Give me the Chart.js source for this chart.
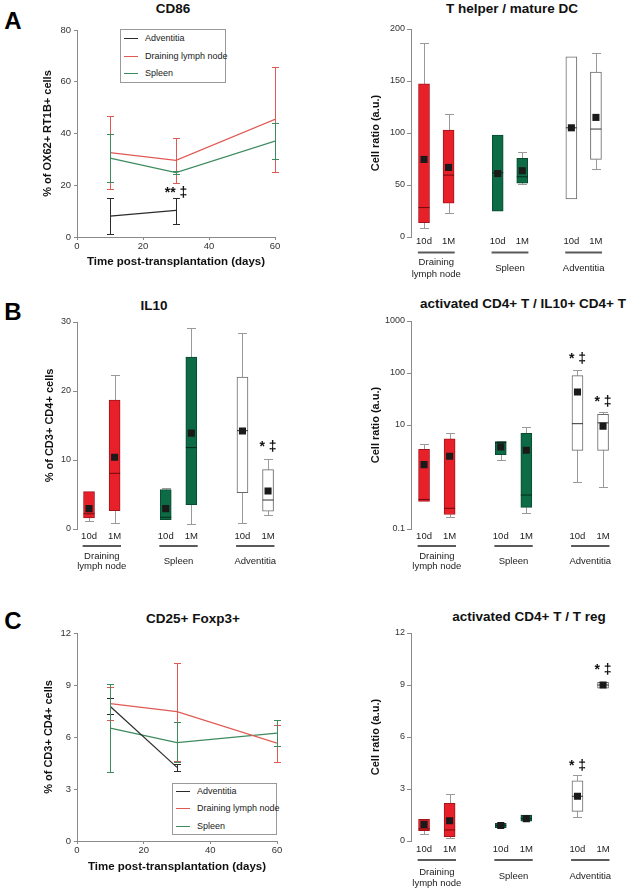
<!DOCTYPE html>
<html><head><meta charset="utf-8">
<script src="https://cdn.jsdelivr.net/npm/chart.js@4/dist/chart.umd.min.js"></script>
<style>
html,body{margin:0;padding:0;background:#fff;}
body{width:630px;height:892px;position:relative;overflow:hidden;font-family:"Liberation Sans",Arial,Helvetica,sans-serif;}
.t{position:absolute;font-weight:bold;font-size:13.5px;color:#111;transform:translate(-50%,-50%);white-space:nowrap;line-height:1;}
.L{position:absolute;font-weight:bold;font-size:24px;color:#000;transform:translate(-50%,-50%);line-height:1;}
.leg{position:absolute;border:1px solid #9a9a9a;background:#fff;font-size:9px;color:#222;box-sizing:border-box;}
.leg div{position:absolute;left:0;white-space:nowrap;line-height:10px;}
.leg span{display:inline-block;width:14px;height:0;border-top:1.5px solid;vertical-align:middle;margin:0 7px 0 3px;}
</style></head><body>
<div class="L" style="left:13px;top:21px">A</div>
<div class="L" style="left:13px;top:312px">B</div>
<div class="L" style="left:13px;top:621px">C</div>
<div class="t" style="left:173px;top:9px">CD86</div>
<div class="t" style="left:512px;top:9px">T helper / mature DC</div>
<div class="t" style="left:154px;top:306px">IL10</div>
<div class="t" style="left:523px;top:304px">activated CD4+ T / IL10+ CD4+ T</div>
<div class="t" style="left:193px;top:619px">CD25+ Foxp3+</div>
<div class="t" style="left:529px;top:617px">activated CD4+ T / T reg</div>
<div id="legA" class="leg" style="left:120px;top:29px;width:106px;height:54px"></div>
<div id="legC" class="leg" style="left:172px;top:783px;width:105px;height:52px"></div>
<script>
// ---------- DATA ----------
const timeDays = [10, 30, 60];
const seriesNames = ['Adventitia', 'Draining lymph node', 'Spleen'];

// CD86 (% of OX62+ RT1B+ cells)
const cd86Adv   = [8.1, 10.3];
const cd86AdvLo = [1.0, 5.2];
const cd86AdvHi = [15.2, 15.2];
const cd86Dln   = [32.6, 29.6, 45.5];
const cd86DlnLo = [18.5, 21.0, 25.0];
const cd86DlnHi = [46.6, 38.3, 65.8];
const cd86Spl   = [30.5, 24.9, 37.1];
const cd86SplLo = [21.4, 24.3, 30.0];
const cd86SplHi = [39.7, 25.4, 44.2];

// CD25+ Foxp3+ (% of CD3+ CD4+ cells)
const foxAdv   = [7.76, 4.25];
const foxAdvLo = [7.32, 4.05];
const foxAdvHi = [8.25, 4.45];
const foxDln   = [7.92, 7.46, 5.65];
const foxDlnLo = [7.0, 4.64, 4.55];
const foxDlnHi = [8.86, 10.27, 6.7];
const foxSpl   = [6.51, 5.68, 6.22];
const foxSplLo = [3.97, 4.53, 5.49];
const foxSplHi = [9.06, 6.84, 6.96];

// Box plots: order = DLN 10d, DLN 1M, Spleen 10d, Spleen 1M, Adventitia 10d, Adventitia 1M
const boxCats   = ['10d', '1M', '10d', '1M', '10d', '1M'];
const boxGroups = ['Draining\nlymph node', 'Spleen', 'Adventitia'];

const thMin  = [8.4, 23.5, 24.8, 50.8, 36.7, 65.3];
const thQ1   = [13.8, 32.5, 24.8, 51.8, 36.7, 74.6];
const thMed  = [28.3, 59.5, 61.7, 57.9, 105, 103.8];
const thQ3   = [147.2, 102.9, 98, 75.6, 173.3, 158.5];
const thMax  = [187, 118, 98, 81.7, 173.3, 176.8];
const thMean = [74.6, 66.9, 61, 63.7, 105, 115];

const il10Min  = [1.1, 0.87, 1.35, 0.77, 0.87, 2.03];
const il10Q1   = [1.59, 2.66, 1.35, 3.53, 5.27, 2.6];
const il10Med  = [2.2, 8.07, 1.7, 11.8, 14.25, 4.2];
const il10Q3   = [5.41, 18.7, 5.7, 24.9, 22.0, 8.6];
const il10Max  = [5.41, 22.3, 5.9, 29.2, 28.4, 10.1];
const il10Mean = [2.95, 10.4, 2.95, 13.9, 14.2, 5.5];

const actMin  = [0.34, 0.17, 2.1, 0.2, 0.79, 0.63];
const actQ1   = [0.34, 0.19, 2.7, 0.26, 3.26, 3.26];
const actMed  = [0.37, 0.25, 4.6, 0.45, 10.6, 11];
const actQ3   = [3.4, 5.4, 4.8, 6.9, 89, 16];
const actMax  = [4.4, 7.1, 5.0, 9.2, 115, 17.5];
const actMean = [1.73, 2.5, 3.8, 3.26, 43, 9.5];

const tregMin  = [0.385, 0.15, 0.77, 1.14, 1.41, 8.82];
const tregQ1   = [0.6, 0.25, 0.77, 1.14, 1.71, 8.82];
const tregMed  = [0.7, 0.64, 0.9, 1.3, 2.58, 9.0];
const tregQ3   = [1.25, 2.18, 1.02, 1.5, 3.47, 9.15];
const tregMax  = [1.25, 2.73, 1.02, 1.5, 3.79, 9.15];
const tregMean = [0.96, 1.17, 0.89, 1.29, 2.58, 9.0];

const logTicks = [0.1, 10, 100, 1000];

// ---------- STYLE ----------
const FONT = '"Liberation Sans", Arial, Helvetica, sans-serif';
Chart.defaults.font.family = FONT;
Chart.defaults.color = '#333';
const AX = '#8a8a8a';
const lineColors = ['#2b2b2b', '#e05a55', '#3d8a5e'];
const boxFill   = ['#e8202a', '#0d6b46', '#ffffff'];
const boxBorder = ['#a3151b', '#0a4a31', '#6a6a6a'];
const boxMedian = ['#6e0b0e', '#042b1c', '#333333'];

function mkCanvas(r){
  const c = document.createElement('canvas');
  c.width = r.w; c.height = r.h;
  c.style.cssText = `position:absolute;left:${r.x}px;top:${r.y}px;width:${r.w}px;height:${r.h}px`;
  document.body.appendChild(c);
  return c;
}
function layout(r, area, yT, yTitleX, xT, xTitleY){
  const lhY = yT * 1.2;
  const padL = yTitleX - lhY / 2 - r.x;
  const yW = area.l - r.x - padL;
  const padT = area.t - r.y;
  const padR = r.x + r.w - area.r;
  let padB, xH;
  if (xTitleY != null) { const lhX = xT * 1.2; padB = r.y + r.h - xTitleY - lhX / 2; xH = r.y + r.h - padB - area.b; }
  else { padB = r.y + r.h - area.b; xH = 0; }
  return {padL, yW, padT, padR, padB, xH};
}
function yScale(L, title, tickSize, extra, tickExtra){
  return Object.assign({
    position: 'left',
    border: {display: true, color: AX, width: 1},
    grid: {drawOnChartArea: false, drawTicks: true, tickLength: 4, color: AX},
    ticks: Object.assign({font: {size: tickSize}, color: '#333', padding: 2}, tickExtra || {}),
    title: {display: true, text: title, font: {size: 11, weight: 'bold'}, color: '#111', padding: {top: 0, bottom: 0}},
    afterFit(s){ s.width = L.yW; }
  }, extra);
}
function notesPlugin(notes, size){
  return {id: 'notes', afterDatasetsDraw(ch){
    const ctx = ch.ctx, x = ch.scales.x, y = ch.scales.y;
    ctx.save(); ctx.font = `bold ${size}px ${FONT}`; ctx.fillStyle = '#111';
    ctx.textAlign = 'center'; ctx.textBaseline = 'middle';
    notes.forEach(n => ctx.fillText(n.t, x.getPixelForValue(n.x), y.getPixelForValue(n.y)));
    ctx.restore();
  }};
}

// ---------- LINE CHART ----------
function lineChart(o){
  const r = o.rect, L = layout(r, o.area, 11, o.yTitleX, 11.5, o.xTitleY);
  const cv = mkCanvas(r);
  const errPlugin = {id: 'err', afterDatasetsDraw(ch){
    const ctx = ch.ctx, x = ch.scales.x, y = ch.scales.y;
    ctx.save(); ctx.lineWidth = 1;
    o.series.forEach((s, si) => {
      ctx.strokeStyle = s.color;
      s.y.forEach((v, j) => {
        const px = Math.round(x.getPixelForValue(timeDays[j])) + 0.5;
        const pl = Math.round(y.getPixelForValue(s.lo[j])) + 0.5;
        const ph = Math.round(y.getPixelForValue(s.hi[j])) + 0.5;
        ctx.beginPath();
        ctx.moveTo(px, pl); ctx.lineTo(px, ph);
        ctx.moveTo(px - 3.5, pl); ctx.lineTo(px + 3.5, pl);
        ctx.moveTo(px - 3.5, ph); ctx.lineTo(px + 3.5, ph);
        ctx.stroke();
      });
    });
    ctx.restore();
  }};
  new Chart(cv, {
    type: 'line',
    data: {datasets: o.series.map(s => ({
      label: s.label,
      data: s.y.map((v, j) => ({x: timeDays[j], y: v})),
      borderColor: s.color, backgroundColor: s.color, borderWidth: 1.2,
      pointRadius: 0, tension: 0, fill: false
    }))},
    options: {
      responsive: false, animation: false, events: [],
      layout: {padding: {left: L.padL, top: L.padT, right: L.padR, bottom: L.padB}},
      plugins: {legend: {display: false}, tooltip: {enabled: false}},
      scales: {
        x: {type: 'linear', min: 0, max: 60,
          border: {display: true, color: AX, width: 1},
          grid: {drawOnChartArea: false, drawTicks: true, tickLength: 3, color: AX},
          ticks: {stepSize: 20, font: {size: 9.5}, color: '#333', padding: 1},
          title: {display: true, text: 'Time post-transplantation (days)', font: {size: 11.5, weight: 'bold'}, color: '#111', padding: {top: 0, bottom: 0}},
          afterFit(s){ s.height = L.xH; }
        },
        y: yScale(L, o.yTitle, 9.5, {min: 0, max: o.yMax, grid: {drawOnChartArea: false, drawTicks: true, tickLength: 3, color: AX}}, {stepSize: o.yStep, padding: 3})
      }
    },
    plugins: [errPlugin, notesPlugin(o.notes || [], 14)]
  });
}

// ---------- BOX CHART ----------
function boxChart(o){
  const r = o.rect, L = layout(r, o.area, 11, o.yTitleX, 11, null);
  const cv = mkCanvas(r);
  const s = o.stats;
  const grp = i => Math.floor(i / 2);
  const pos = i => grp(i) * 3 + (i % 2);
  const whisk = {id: 'whisk', beforeDatasetsDraw(ch){
    const ctx = ch.ctx, x = ch.scales.x, y = ch.scales.y;
    ctx.save(); ctx.strokeStyle = '#9a9a9a'; ctx.lineWidth = 1;
    s.q1.forEach((q1, i) => {
      const px = Math.round(x.getPixelForValue(pos(i))) + 0.5;
      [[s.q3[i], s.max[i]], [q1, s.min[i]]].forEach(([a, b]) => {
        if (Math.abs(a - b) < 1e-9) return;
        const pa = y.getPixelForValue(a), pb = Math.round(y.getPixelForValue(b)) + 0.5;
        ctx.beginPath();
        ctx.moveTo(px, pa); ctx.lineTo(px, pb);
        ctx.moveTo(px - 4.5, pb); ctx.lineTo(px + 4.5, pb);
        ctx.stroke();
      });
    });
    ctx.restore();
  }};
  const cats = {id: 'cats', afterDraw(ch){
    const ctx = ch.ctx, x = ch.scales.x, b = ch.chartArea.bottom, of = o.offs;
    ctx.save(); ctx.font = `9.5px ${FONT}`; ctx.textAlign = 'center'; ctx.textBaseline = 'middle';
    ctx.fillStyle = '#222';
    boxCats.forEach((c, i) => ctx.fillText(c, x.getPixelForValue(pos(i)), b + of.cat));
    boxGroups.forEach((g, gi) => {
      const x0 = x.getPixelForValue(gi * 3 - 0.25), x1 = x.getPixelForValue(gi * 3 + 1.25);
      ctx.fillStyle = '#5a5a5a'; ctx.fillRect(x0, b + of.line - 1, x1 - x0, 2);
      ctx.fillStyle = '#222';
      const lines = g.split('\n'), cx = (x0 + x1) / 2;
      if (lines.length === 1) ctx.fillText(lines[0], cx, b + of.one);
      else lines.forEach((ln, k) => ctx.fillText(ln, cx, b + of.two[k]));
    });
    ctx.restore();
  }};
  const yExtra = o.log
    ? {type: 'logarithmic', min: logTicks[0], max: logTicks[logTicks.length - 1],
       afterBuildTicks(sc){ sc.ticks = logTicks.map(v => ({value: v})); }}
    : {min: 0, max: o.yMax};
  const tickExtra = o.log ? {callback: v => String(v)} : {stepSize: o.yStep};
  new Chart(cv, {
    type: 'bar',
    data: {datasets: [
      {type: 'bar', data: s.q1.map((q, i) => ({x: pos(i), y: [q, s.q3[i]]})),
       backgroundColor: s.q1.map((_, i) => boxFill[grp(i)]),
       borderColor: s.q1.map((_, i) => boxBorder[grp(i)]),
       borderWidth: 1, borderSkipped: false, barThickness: 11, order: 3},
      {type: 'scatter', data: s.med.map((m, i) => ({x: pos(i), y: m})),
       pointStyle: 'line', pointRadius: 5.5, pointBorderWidth: 1,
       pointBorderColor: s.med.map((_, i) => boxMedian[grp(i)]), order: 2},
      {type: 'scatter', data: s.mean.map((m, i) => ({x: pos(i), y: m})),
       pointStyle: 'rect', pointRadius: 5, pointBorderWidth: 0,
       pointBackgroundColor: '#1a1a1a', pointBorderColor: '#1a1a1a', order: 1}
    ]},
    options: {
      responsive: false, animation: false, events: [],
      layout: {padding: {left: L.padL, top: L.padT, right: L.padR, bottom: L.padB}},
      plugins: {legend: {display: false}, tooltip: {enabled: false}},
      scales: {
        x: {type: 'linear', min: o.xmin, max: o.xmax, display: false, offset: false},
        y: yScale(L, o.yTitle, 9, yExtra, tickExtra)
      }
    },
    plugins: [whisk, cats, notesPlugin(o.notes || [], 14)]
  });
}

// ---------- LEGENDS ----------
function legend(id, tops){
  const el = document.getElementById(id);
  seriesNames.forEach((n, i) => {
    const d = document.createElement('div');
    d.style.top = tops[i] + 'px';
    d.innerHTML = `<span style="border-color:${lineColors[i]}"></span>${n}`;
    el.appendChild(d);
  });
}
legend('legA', [3, 21, 38]);
legend('legC', [2, 19, 37]);

// ---------- BUILD ----------
lineChart({
  rect: {x: 0, y: 0, w: 310, h: 290}, area: {l: 77, t: 30, r: 275, b: 237},
  yTitleX: 48, xTitleY: 262, yMax: 80, yStep: 20,
  yTitle: '% of OX62+ RT1B+ cells',
  series: [
    {label: seriesNames[0], color: lineColors[0], y: cd86Adv, lo: cd86AdvLo, hi: cd86AdvHi},
    {label: seriesNames[1], color: lineColors[1], y: cd86Dln, lo: cd86DlnLo, hi: cd86DlnHi},
    {label: seriesNames[2], color: lineColors[2], y: cd86Spl, lo: cd86SplLo, hi: cd86SplHi}
  ],
  notes: [{x: 30, y: 17, t: '** \u2021'}]
});
lineChart({
  rect: {x: 0, y: 590, w: 310, h: 302}, area: {l: 77, t: 633, r: 277, b: 841},
  yTitleX: 49, xTitleY: 867, yMax: 12, yStep: 3,
  yTitle: '% of CD3+ CD4+ cells',
  series: [
    {label: seriesNames[0], color: lineColors[0], y: foxAdv, lo: foxAdvLo, hi: foxAdvHi},
    {label: seriesNames[1], color: lineColors[1], y: foxDln, lo: foxDlnLo, hi: foxDlnHi},
    {label: seriesNames[2], color: lineColors[2], y: foxSpl, lo: foxSplLo, hi: foxSplHi}
  ]
});
boxChart({
  rect: {x: 315, y: 0, w: 315, h: 290}, area: {l: 411, t: 29, r: 620, b: 237},
  xmin: -0.53, xmax: 7.98, yTitleX: 376, yMax: 200, yStep: 50, yTitle: 'Cell ratio (a.u.)',
  stats: {min: thMin, q1: thQ1, med: thMed, q3: thQ3, max: thMax, mean: thMean},
  offs: {cat: 4.5, line: 15.5, one: 31, two: [25.6, 37.3]}
});
boxChart({
  rect: {x: 0, y: 290, w: 315, h: 300}, area: {l: 77, t: 322, r: 288.5, b: 529},
  xmin: -0.47, xmax: 7.8, yTitleX: 50, yMax: 30, yStep: 10, yTitle: '% of CD3+ CD4+ cells',
  stats: {min: il10Min, q1: il10Q1, med: il10Med, q3: il10Q3, max: il10Max, mean: il10Mean},
  offs: {cat: 7, line: 17, one: 32, two: [27.4, 37.6]},
  notes: [{x: 7, y: 11.9, t: '* \u2021'}]
});
boxChart({
  rect: {x: 315, y: 290, w: 315, h: 300}, area: {l: 411, t: 321, r: 623.5, b: 529},
  xmin: -0.51, xmax: 7.8, yTitleX: 376, log: true, yTitle: 'Cell ratio (a.u.)',
  stats: {min: actMin, q1: actQ1, med: actMed, q3: actQ3, max: actMax, mean: actMean},
  offs: {cat: 7, line: 17, one: 32, two: [27.6, 37.6]},
  notes: [{x: 6, y: 186, t: '* \u2021'}, {x: 7, y: 28, t: '* \u2021'}]
});
boxChart({
  rect: {x: 315, y: 590, w: 315, h: 302}, area: {l: 411, t: 633, r: 623.5, b: 841},
  xmin: -0.51, xmax: 7.8, yTitleX: 376, yMax: 12, yStep: 3, yTitle: 'Cell ratio (a.u.)',
  stats: {min: tregMin, q1: tregQ1, med: tregMed, q3: tregQ3, max: tregMax, mean: tregMean},
  offs: {cat: 8, line: 19, one: 35, two: [31, 42]},
  notes: [{x: 6, y: 4.33, t: '* \u2021'}, {x: 7, y: 9.87, t: '* \u2021'}]
});
</script>
</body></html>
